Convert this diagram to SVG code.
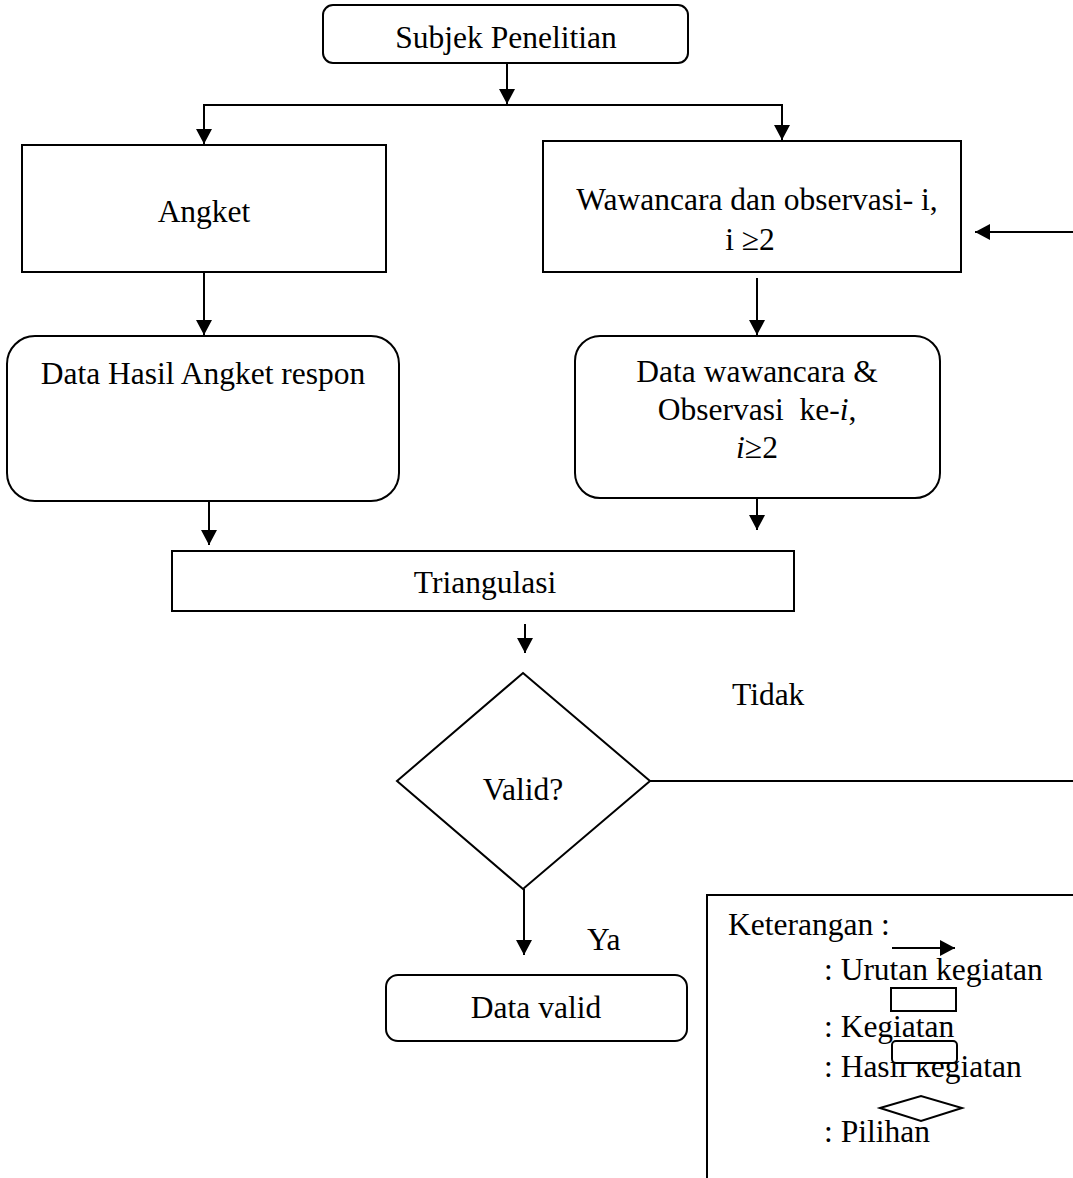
<svg xmlns="http://www.w3.org/2000/svg" width="1073" height="1178" viewBox="0 0 1073 1178">
<defs>
<marker id="ah" markerUnits="userSpaceOnUse" markerWidth="16" markerHeight="16" refX="15" refY="8" orient="auto">
<path d="M0,0 L15,8 L0,16 z" fill="#000"/>
</marker>
<style>
.box{fill:#fff;stroke:#000;stroke-width:2}
.ln{fill:none;stroke:#000;stroke-width:2}
.t{font-family:"Liberation Serif","Times New Roman",serif;font-size:31.5px;fill:#000}
.c{text-anchor:middle}
</style>
</defs>
<rect width="1073" height="1178" fill="#fff"/>

<g id="connectors">
<line class="ln" x1="507" y1="63" x2="507" y2="104" marker-end="url(#ah)"/>
<line class="ln" x1="203" y1="105" x2="783" y2="105"/>
<line class="ln" x1="204" y1="105" x2="204" y2="144" marker-end="url(#ah)"/>
<line class="ln" x1="782" y1="105" x2="782" y2="140" marker-end="url(#ah)"/>
<line class="ln" x1="1073" y1="232" x2="975" y2="232" marker-end="url(#ah)"/>
<line class="ln" x1="204" y1="272" x2="204" y2="335" marker-end="url(#ah)"/>
<line class="ln" x1="757" y1="278" x2="757" y2="335" marker-end="url(#ah)"/>
<line class="ln" x1="209" y1="502" x2="209" y2="545" marker-end="url(#ah)"/>
<line class="ln" x1="757" y1="489" x2="757" y2="530" marker-end="url(#ah)"/>
<line class="ln" x1="525" y1="624" x2="525" y2="653" marker-end="url(#ah)"/>
<line class="ln" x1="650" y1="781" x2="1073" y2="781"/>
<line class="ln" x1="524" y1="889" x2="524" y2="955" marker-end="url(#ah)"/>
</g>

<g id="subjek">
<rect class="box" x="323" y="5" width="365" height="58" rx="10"/>
<text class="t c" x="506" y="48">Subjek Penelitian</text>
</g>

<g id="angket">
<rect class="box" x="22" y="145" width="364" height="127"/>
<text class="t c" x="204" y="222">Angket</text>
</g>

<g id="wawancara">
<rect class="box" x="543" y="141" width="418" height="131"/>
<text class="t c" x="757" y="210" font-size="33">Wawancara dan observasi- i,</text>
<text class="t c" x="750" y="250" font-size="33">i ≥2</text>
</g>

<g id="data-angket">
<rect class="box" x="7" y="336" width="392" height="165" rx="28"/>
<text class="t c" x="203" y="384">Data Hasil Angket respon</text>
</g>

<g id="data-wawancara">
<rect class="box" x="575" y="336" width="365" height="162" rx="25"/>
<text class="t c" x="757" y="382">Data wawancara &amp;</text>
<text class="t c" x="757" y="420" xml:space="preserve">Observasi  ke-<tspan font-style="italic">i</tspan>,</text>
<text class="t c" x="757" y="458"><tspan font-style="italic">i</tspan>≥2</text>
</g>

<g id="triangulasi">
<rect class="box" x="172" y="551" width="622" height="60"/>
<text class="t c" x="485" y="593">Triangulasi</text>
</g>

<g id="valid">
<polygon class="box" points="523,673 650,781 523,889 397,781"/>
<text class="t c" x="523" y="800">Valid?</text>
</g>

<g id="label-tidak">
<text class="t" x="732" y="705">Tidak</text>
</g>

<g id="label-ya">
<text class="t" x="587" y="950">Ya</text>
</g>

<g id="data-valid">
<rect class="box" x="386" y="975" width="301" height="66" rx="12"/>
<text class="t c" x="536" y="1018">Data valid</text>
</g>

<g id="legend">
<rect class="box" x="707" y="895" width="400" height="320"/>
<text class="t" x="728" y="935">Keterangan :</text>
<line class="ln" x1="892" y1="948" x2="955" y2="948" marker-end="url(#ah)"/>
<text class="t" x="824" y="980">: Urutan kegiatan</text>
<rect class="box" x="891" y="988" width="65" height="23"/>
<text class="t" x="824" y="1037">: Kegiatan</text>
<text class="t" x="824" y="1077">: Hasil kegiatan</text>
<rect class="box" x="892" y="1041" width="65" height="22" rx="4"/>
<polygon class="box" points="880,1108 921,1096 962,1108 921,1121"/>
<text class="t" x="824" y="1142">: Pilihan</text>
</g>
</svg>
